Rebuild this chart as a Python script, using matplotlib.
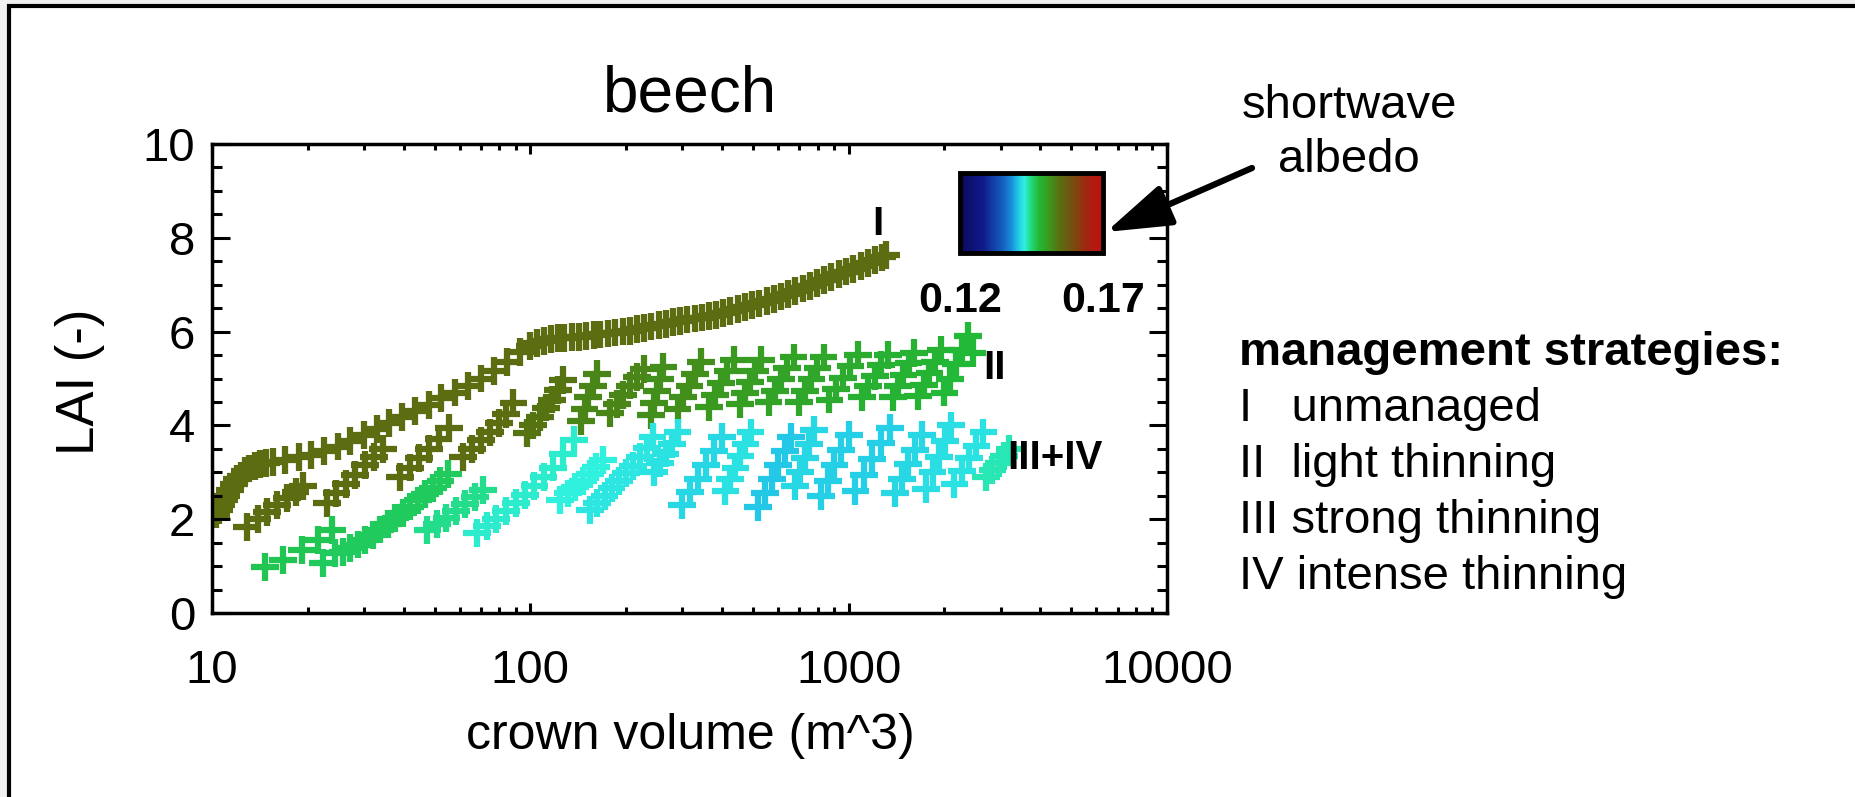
import numpy as np
import matplotlib
matplotlib.use("Agg")
import matplotlib.pyplot as plt
from matplotlib.colors import LinearSegmentedColormap
from matplotlib.patches import Rectangle, FancyArrowPatch
from matplotlib.ticker import MultipleLocator, NullFormatter

plt.rcParams['font.family'] = ['Liberation Sans', 'DejaVu Sans']

# ---- data ----
# I  unmanaged (one continuous run)
x_i = [10.3, 10.5, 10.7, 10.9, 11.1, 11.4, 11.7, 12.0, 12.3, 12.7, 13.1, 13.6, 14.1, 14.8,
       15.5, 17.0, 18.7, 20.5, 22.5, 24.8, 27.2, 30.0, 33.0, 36.0, 39.5, 43.5, 48.0, 52.5,
       58.0, 63.5, 70.0, 77.0, 84.5, 93.0,
       100, 105, 110, 116, 122, 128, 135, 142, 150, 158, 166, 175, 185, 195, 205, 216, 228,
       240, 253, 266, 280, 295, 311, 328, 345, 364, 383, 404, 425, 448, 472, 497, 524, 552,
       582, 613, 646, 680, 717, 755, 796, 838, 883, 930, 980, 1030, 1090, 1150, 1210, 1270, 1310]
y_i = [2.10, 2.20, 2.30, 2.40, 2.50, 2.62, 2.74, 2.85, 2.93, 3.02, 3.08, 3.13, 3.17, 3.20,
       3.22, 3.27, 3.32, 3.37, 3.45, 3.55, 3.66, 3.80, 3.93, 4.05, 4.18, 4.30, 4.44, 4.58,
       4.70, 4.84, 5.00, 5.16, 5.36, 5.56,
       5.70, 5.76, 5.80, 5.84, 5.86, 5.87, 5.88, 5.89, 5.90, 5.92, 5.94, 5.96, 5.98, 6.00, 6.02,
       6.05, 6.08, 6.11, 6.14, 6.17, 6.20, 6.23, 6.26, 6.28, 6.30, 6.33, 6.36, 6.40, 6.44, 6.48,
       6.52, 6.56, 6.60, 6.65, 6.70, 6.75, 6.80, 6.86, 6.92, 6.98, 7.04, 7.10, 7.16, 7.22, 7.28,
       7.34, 7.40, 7.46, 7.52, 7.58, 7.64]
albedo_i = 0.155

# II  light thinning (one run between thinnings)
x_ii = [[12.9, 13.9, 14.9, 16.0, 17.2, 18.3, 19.3],
        [23.0, 24.6, 26.3, 28.2, 30.2, 32.3, 34.5],
        [39.0, 41.8, 44.8, 48.0, 51.5, 55.5],
        [61.5, 65.5, 70.0, 74.5, 79.5, 84.0, 88.5],
        [97.5, 102, 107, 112, 117, 122, 127],
        [144, 148, 152, 157, 162],
        [178, 187, 196, 206, 216, 227],
        [239, 244, 250, 256, 262],
        [290, 302, 316, 329, 343],
        [365, 381, 398, 416, 435],
        [455, 472, 490, 509, 529],
        [560, 586, 613, 641, 671],
        [700, 731, 764, 798, 834],
        [870, 915, 962, 1013, 1067],
        [1100, 1153, 1209, 1266, 1327],
        [1380, 1432, 1486, 1542, 1601],
        [1650, 1720, 1793, 1868, 1946],
        [2000, 2085, 2175, 2268, 2366, 2450]]
y_ii = [[1.83, 2.00, 2.15, 2.30, 2.45, 2.58, 2.70],
        [2.35, 2.55, 2.75, 2.95, 3.15, 3.33, 3.50],
        [2.90, 3.10, 3.30, 3.50, 3.72, 3.95],
        [3.33, 3.50, 3.68, 3.85, 4.05, 4.25, 4.47],
        [3.84, 4.00, 4.18, 4.38, 4.55, 4.75, 4.97],
        [4.10, 4.35, 4.60, 4.85, 5.10],
        [4.26, 4.45, 4.65, 4.85, 5.03, 5.20],
        [4.22, 4.48, 4.74, 5.00, 5.25],
        [4.35, 4.60, 4.85, 5.10, 5.35],
        [4.40, 4.65, 4.90, 5.15, 5.40],
        [4.45, 4.70, 4.93, 5.17, 5.40],
        [4.50, 4.74, 4.98, 5.22, 5.45],
        [4.50, 4.74, 4.98, 5.22, 5.45],
        [4.55, 4.78, 5.02, 5.26, 5.50],
        [4.60, 4.83, 5.05, 5.28, 5.50],
        [4.60, 4.84, 5.08, 5.32, 5.55],
        [4.62, 4.86, 5.11, 5.35, 5.60],
        [4.70, 5.00, 5.30, 5.60, 5.90, 5.55]]
albedo_ii = [0.155, 0.155, 0.155, 0.155, 0.1545, 0.153, 0.153, 0.152, 0.152,
             0.151, 0.1505, 0.150, 0.1495, 0.149, 0.1485, 0.148, 0.148, 0.1475]

# III+IV strong / intense thinning
x_iii = [[14.7, 16.7, 19.2, 21.5, 23.8],
         [22.3, 24.4, 25.8, 27.2, 28.7, 30.3, 32.0, 33.8, 35.7, 37.7, 39.8, 42.0, 44.3,
          46.8, 49.4, 52.2, 55.0],
         [47.5, 51.0, 54.5, 58.5, 62.5, 67.0, 71.0],
         [68, 73, 78, 84, 90, 96, 103, 110, 118, 127, 137],
         [124, 131, 138, 146, 154, 161, 169],
         [154, 162, 171, 180, 190, 200, 210, 221, 233, 242],
         [245, 255, 266, 278, 290],
         [300, 318, 337, 357, 378, 400],
         [410, 425, 441, 457, 474, 492],
         [520, 546, 573, 601, 630, 660],
         [680, 704, 728, 752, 778],
         [820, 860, 902, 947, 1000],
         [1050, 1115, 1185, 1260, 1350],
         [1400, 1470, 1540, 1620, 1700],
         [1750, 1835, 1920, 2010, 2100],
         [2150, 2270, 2390, 2520, 2650],
         [2700, 2830, 2960, 3080, 3200]]
y_iii = [[0.98, 1.13, 1.34, 1.56, 1.77],
         [1.07, 1.28, 1.30, 1.38, 1.46, 1.55, 1.66, 1.78, 1.90, 2.02, 2.14, 2.27, 2.40,
          2.53, 2.66, 2.81, 2.97],
         [1.77, 1.90, 2.03, 2.17, 2.32, 2.47, 2.62],
         [1.70, 1.85, 2.00, 2.17, 2.35, 2.52, 2.70, 2.90, 3.10, 3.38, 3.69],
         [2.41, 2.55, 2.68, 2.82, 2.97, 3.12, 3.26],
         [2.20, 2.35, 2.50, 2.66, 2.82, 2.98, 3.14, 3.32, 3.52, 3.75],
         [3.00, 3.20, 3.40, 3.60, 3.85],
         [2.30, 2.58, 2.86, 3.15, 3.45, 3.75],
         [2.60, 2.85, 3.10, 3.35, 3.60, 3.85],
         [2.25, 2.55, 2.85, 3.15, 3.45, 3.75],
         [2.70, 3.00, 3.30, 3.60, 3.90],
         [2.50, 2.82, 3.15, 3.48, 3.80],
         [2.60, 2.94, 3.28, 3.62, 3.95],
         [2.55, 2.86, 3.17, 3.48, 3.80],
         [2.65, 3.00, 3.33, 3.67, 4.00],
         [2.75, 3.02, 3.30, 3.57, 3.85],
         [2.90, 3.05, 3.20, 3.35, 3.50]]
albedo_iii = [0.1465, 0.146, 0.1445, 0.143, 0.1425, 0.142, 0.1418, 0.1412, 0.1418,
              0.1405, 0.1412, 0.1408, 0.1408, 0.1412, 0.1415, 0.1418, 0.1435]

xticks = [10, 100, 1000, 10000]
xticklabels = ['10', '100', '1000', '10000']
yticks = [0, 2, 4, 6, 8, 10]
cbar_range = [0.12, 0.17]
legend_lines = ['I   unmanaged', 'II  light thinning', 'III strong thinning', 'IV intense thinning']

# colour table (dark blue - blue - cyan - green - olive - red)
cmap = LinearSegmentedColormap.from_list('albedo', [
    (0.00, '#0a0a5a'), (0.16, '#101a8a'), (0.30, '#1460c0'), (0.36, '#1890d8'),
    (0.40, '#20c0e8'), (0.45, '#30f0e0'), (0.50, '#20d878'), (0.55, '#22b838'),
    (0.62, '#3a9a20'), (0.70, '#5a6e10'), (0.80, '#7a4a10'), (0.90, '#a82010'),
    (1.00, '#c01010')])

W, H = 1855, 797


def fx(px):
    return px / W


def fy(py):
    return 1 - py / H


fig = plt.figure(figsize=(W / 100, H / 100), dpi=100)
fig.patch.set_facecolor('#f0f0f0')
fig.add_artist(Rectangle((fx(8.5), -0.5), 2, fy(5.5) + 0.5, transform=fig.transFigure,
                         facecolor='white', edgecolor='black', lw=3, zorder=-5))

ax = fig.add_axes([fx(212), fy(613), 955 / W, 469 / H])
ax.set_facecolor('white')

mk = dict(marker='+', s=400, linewidths=4.5, cmap=cmap, vmin=cbar_range[0], vmax=cbar_range[1])

ax.scatter(x_i, y_i, c=np.full(len(x_i), albedo_i), **mk)
for xs, ys, a in zip(x_ii, y_ii, albedo_ii):
    ax.scatter(xs, ys, c=np.full(len(xs), a), **mk)
for xs, ys, a in zip(x_iii, y_iii, albedo_iii):
    sc = ax.scatter(xs, ys, c=np.full(len(xs), a), **mk)

ax.set_xscale('log')
ax.set_xlim(10, 10000)
ax.set_ylim(0, 10)
ax.set_xticks(xticks)
ax.set_xticklabels(xticklabels)
ax.xaxis.set_minor_formatter(NullFormatter())
ax.set_yticks(yticks)
ax.yaxis.set_minor_locator(MultipleLocator(0.5))
ax.tick_params(which='both', direction='in', top=True, right=True, labelsize=34)
ax.tick_params(axis='x', which='major', length=7, width=2.2, pad=26)
ax.tick_params(axis='x', which='minor', length=4, width=2.2)
ax.tick_params(axis='y', which='major', length=13, width=2.2, pad=12)
ax.tick_params(axis='y', which='minor', length=7, width=2.2)
for sp in ax.spines.values():
    sp.set_linewidth(2.5)

ax.text(1188, 8.3, 'I', fontsize=29, fontweight='bold', va='center')
ax.text(2650, 5.22, 'II', fontsize=29, fontweight='bold', va='center')
ax.text(3150, 3.3, 'III+IV', fontsize=29, fontweight='bold', va='center')

fig.text(fx(690), fy(95), 'beech', fontsize=46, ha='center', va='center')
fig.text(fx(690), fy(736), 'crown volume (m^3)', fontsize=36, ha='center', va='center')
fig.text(fx(80), fy(382), 'LAI (-)', fontsize=38, rotation=90, ha='center', va='center')

# colour bar
cax = fig.add_axes([fx(960), fy(253), 143 / W, 80 / H])
cb = fig.colorbar(sc, cax=cax, orientation='horizontal')
cb.set_ticks(cbar_range)
cb.set_ticklabels(['%.2f' % v for v in cbar_range])
cb.ax.tick_params(length=0, pad=20, labelsize=31)
for lab in cb.ax.get_xticklabels():
    lab.set_fontweight('bold')
cb.outline.set_linewidth(3.5)

fig.add_artist(FancyArrowPatch((fx(1252), fy(168)), (fx(1106), fy(232)),
                               transform=fig.transFigure, arrowstyle='-|>,head_length=2.0,head_width=0.65',
                               mutation_scale=20, lw=4.5, color='black', shrinkA=0, shrinkB=0))

fig.text(fx(1349), fy(106), 'shortwave', fontsize=34, ha='center', va='center')
fig.text(fx(1349), fy(160), 'albedo', fontsize=34, ha='center', va='center')

fig.text(fx(1239), fy(353), 'management strategies:', fontsize=34, fontweight='bold',
         ha='left', va='center')
for k, line in enumerate(legend_lines):
    fig.text(fx(1239), fy(409 + 56 * k), line, fontsize=34, ha='left', va='center')

fig.savefig('out.png', dpi=100, facecolor=fig.get_facecolor())
